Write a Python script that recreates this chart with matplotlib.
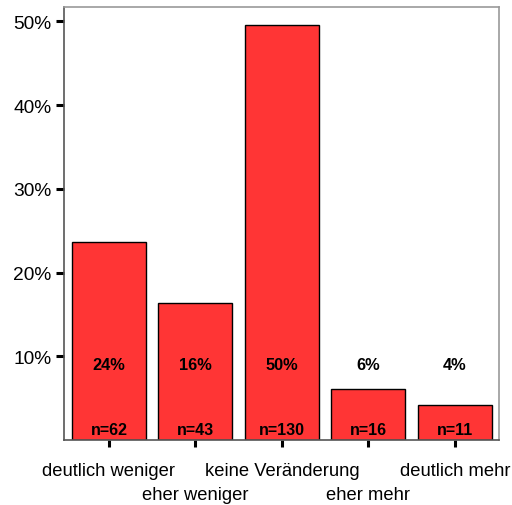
import matplotlib.pyplot as plt
from matplotlib.ticker import FuncFormatter

plt.rcParams['font.family'] = ['Liberation Sans', 'DejaVu Sans']

categories = ['deutlich weniger', 'eher weniger', 'keine Veränderung', 'eher mehr', 'deutlich mehr']
counts = [62, 43, 130, 16, 11]
total = sum(counts)
percents = [c / total * 100 for c in counts]

fig = plt.figure(figsize=(5.12, 5.06), dpi=100)
ax = fig.add_axes([0.125, 0.1285, 0.8496, 0.8555])

x = list(range(len(categories)))
ax.bar(x, percents, width=0.855, color='#ff3535', edgecolor='black', linewidth=1.0, zorder=2)

ax.set_xlim(-0.52, 4.51)
ax.set_ylim(0, 51.7)

# percent and count labels inside the plot
for i, (p, n) in enumerate(zip(percents, counts)):
    ax.text(i, 9.0, f'{p:.0f}%', ha='center', va='center', fontsize=11.8, fontweight='bold')
    ax.text(i, 1.3, f'n={n}', ha='center', va='center', fontsize=11.5, fontweight='bold')

ax.set_yticks([10, 20, 30, 40, 50])
ax.yaxis.set_major_formatter(FuncFormatter(lambda v, pos: f'{v:.0f}%'))
ax.tick_params(axis='y', length=5.5, width=2.2, pad=3.5, labelsize=13.8, direction='out')

ax.set_xticks(x)
ax.set_xticklabels(['' for _ in categories])
ax.tick_params(axis='x', length=5, width=2.2, direction='out')

# staggered category labels
for i, cat in enumerate(categories):
    y = -0.07 if i % 2 == 0 else -0.125
    ax.text(i, y, cat, transform=ax.get_xaxis_transform(), ha='center', va='center', fontsize=13.2)

ax.spines['left'].set_color('#555555')
ax.spines['bottom'].set_color('#555555')
ax.spines['top'].set_color('#999999')
ax.spines['right'].set_color('#999999')
for s in ax.spines.values():
    s.set_linewidth(1.2)

plt.savefig('out.png', dpi=100)
